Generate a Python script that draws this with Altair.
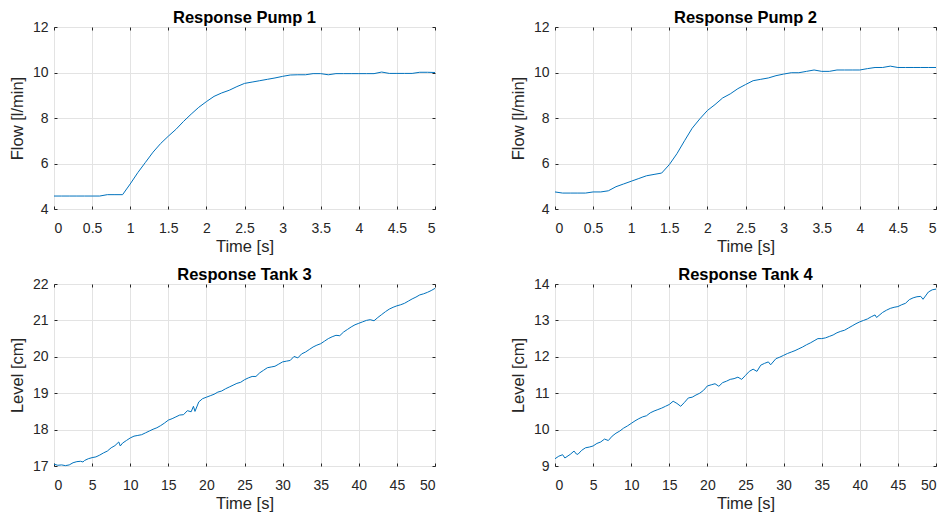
import altair as alt
import pandas as pd

FONT = "Liberation Sans"
LINE = "#0072BD"
TXT = "#262626"

# ---------------- data ----------------
pump_time = [i / 10 for i in range(51)]

pump1_flow = [4.57, 4.57, 4.57, 4.57, 4.57, 4.57, 4.57, 4.63, 4.63, 4.63,
              5.10, 5.60, 6.05, 6.50, 6.88, 7.20, 7.50, 7.85, 8.17, 8.47,
              8.72, 8.95, 9.10, 9.22, 9.38, 9.52, 9.58, 9.64, 9.70, 9.76,
              9.83, 9.89, 9.90, 9.90, 9.95, 9.95, 9.90, 9.95, 9.95, 9.95,
              9.95, 9.95, 9.95, 10.02, 9.96, 9.96, 9.96, 9.96, 10.01, 10.01,
              10.00]

pump2_flow = [4.75, 4.70, 4.70, 4.70, 4.70, 4.75, 4.75, 4.80, 4.98, 5.10,
              5.22, 5.34, 5.46, 5.52, 5.58, 5.95, 6.43, 7.00, 7.55, 7.96,
              8.33, 8.59, 8.88, 9.06, 9.29, 9.47, 9.64, 9.70, 9.76, 9.86,
              9.93, 9.99, 9.99, 10.05, 10.11, 10.05, 10.05, 10.11, 10.11, 10.11,
              10.11, 10.17, 10.22, 10.22, 10.28, 10.22, 10.22, 10.22, 10.22, 10.22,
              10.22]

tank3_time = [0, 0.5, 1, 1.5, 2, 2.5, 3, 3.5, 3.8, 4,
              4.5, 5, 5.5, 6, 6.5, 7, 7.5, 8, 8.5, 8.7,
              9, 9.5, 10, 10.5, 11, 11.5, 12, 12.5, 13, 13.5,
              14, 14.5, 15, 15.5, 16, 16.5, 17, 17.5, 18, 18.3,
              18.5, 19, 19.5, 20, 20.5, 21, 21.5, 22, 22.5, 23,
              23.5, 24, 24.5, 25, 25.5, 26, 26.5, 27, 27.5, 28,
              28.5, 29, 29.5, 30, 30.5, 31, 31.5, 32, 32.5, 33,
              33.5, 34, 34.5, 35, 35.5, 36, 36.5, 37, 37.5, 38,
              38.5, 39, 39.5, 40, 40.5, 41, 41.5, 42, 42.5, 43,
              43.5, 44, 44.5, 45, 45.5, 46, 46.5, 47, 47.5, 48,
              48.5, 49, 49.5, 50]
tank3_level = [17.05, 17.02, 17.03, 17.01, 17.03, 17.09, 17.12, 17.13, 17.11, 17.15,
               17.20, 17.23, 17.25, 17.30, 17.36, 17.41, 17.50, 17.56, 17.66, 17.55,
               17.63, 17.70, 17.77, 17.82, 17.84, 17.86, 17.91, 17.96, 18.01, 18.05,
               18.11, 18.18, 18.26, 18.30, 18.35, 18.40, 18.41, 18.52, 18.49, 18.64,
               18.50, 18.76, 18.85, 18.89, 18.93, 18.97, 19.03, 19.06, 19.12, 19.17,
               19.22, 19.27, 19.30, 19.37, 19.42, 19.46, 19.46, 19.56, 19.63, 19.70,
               19.72, 19.74, 19.80, 19.86, 19.88, 19.90, 20.01, 19.97, 20.08, 20.13,
               20.20, 20.27, 20.32, 20.36, 20.43, 20.50, 20.55, 20.59, 20.58, 20.68,
               20.75, 20.82, 20.88, 20.92, 20.96, 21.00, 21.02, 20.99, 21.08, 21.16,
               21.24, 21.31, 21.36, 21.40, 21.43, 21.47, 21.53, 21.59, 21.64, 21.70,
               21.73, 21.77, 21.82, 21.88]

tank4_time = [0, 0.5, 1, 1.3, 2, 2.5, 2.8, 3, 3.5, 4,
              4.5, 5, 5.5, 6, 6.5, 7, 7.5, 8, 8.5, 9,
              9.5, 10, 10.5, 11, 11.5, 12, 12.5, 13, 13.5, 14,
              14.5, 15, 15.5, 16, 16.5, 17, 17.5, 18, 18.5, 19,
              19.5, 20, 20.5, 21, 21.5, 22, 22.5, 23, 23.5, 24,
              24.5, 25, 25.5, 26, 26.5, 27, 27.5, 28, 28.3, 29,
              29.5, 30, 30.5, 31, 31.5, 32, 32.5, 33, 33.5, 34,
              34.5, 35, 35.5, 36, 36.5, 37, 37.5, 38, 38.5, 39,
              39.5, 40, 40.5, 41, 41.5, 42, 42.2, 43, 43.5, 44,
              44.5, 45, 45.5, 46, 46.5, 47, 47.5, 48, 48.3, 49,
              49.5, 50]
tank4_level = [9.20, 9.27, 9.31, 9.22, 9.32, 9.41, 9.33, 9.32, 9.43, 9.50,
               9.52, 9.55, 9.62, 9.66, 9.74, 9.70, 9.82, 9.90, 9.96, 10.04,
               10.10, 10.17, 10.24, 10.30, 10.35, 10.38, 10.46, 10.51, 10.55, 10.59,
               10.64, 10.69, 10.78, 10.72, 10.64, 10.75, 10.87, 10.89, 10.95, 11.00,
               11.08, 11.20, 11.23, 11.26, 11.19, 11.29, 11.33, 11.38, 11.40, 11.44,
               11.38, 11.49, 11.60, 11.66, 11.60, 11.77, 11.82, 11.86, 11.78, 11.95,
               11.99, 12.04, 12.09, 12.13, 12.17, 12.22, 12.27, 12.33, 12.38, 12.44,
               12.50, 12.50, 12.52, 12.56, 12.60, 12.66, 12.70, 12.73, 12.79, 12.85,
               12.91, 12.96, 13.00, 13.04, 13.10, 13.15, 13.08, 13.22, 13.28, 13.33,
               13.36, 13.38, 13.43, 13.47, 13.57, 13.62, 13.65, 13.66, 13.58, 13.78,
               13.84, 13.86]

pump_xticks = [0, 0.5, 1, 1.5, 2, 2.5, 3, 3.5, 4, 4.5, 5]
tank_xticks = [0, 5, 10, 15, 20, 25, 30, 35, 40, 45, 50]
pump_yticks = [4, 6, 8, 10, 12]
tank3_yticks = [17, 18, 19, 20, 21, 22]
tank4_yticks = [9, 10, 11, 12, 13, 14]

W, H = 381, 182


def panel(t, v, title, ylabel, xdom, xticks, ydom, yticks):
    df = pd.DataFrame({"t": t, "v": v})
    xs = alt.Scale(domain=xdom, nice=False, zero=False)
    ys = alt.Scale(domain=ydom, nice=False, zero=False)
    main = alt.Chart(df).mark_line(color=LINE, strokeWidth=1).encode(
        x=alt.X("t:Q", scale=xs, axis=alt.Axis(
            orient="bottom", values=xticks, format="~g", title="Time [s]",
            domain=False, ticks=True, tickSize=3, offset=-3, tickColor=TXT,
            labelPadding=12, titlePadding=3, grid=True)),
        y=alt.Y("v:Q", scale=ys, axis=alt.Axis(
            orient="left", values=yticks, format="~g", title=ylabel,
            domain=False, ticks=True, tickSize=3, offset=-3, tickColor=TXT,
            labelPadding=6, titlePadding=7, grid=True)),
    )
    ghost = alt.Chart(df).mark_line(strokeOpacity=0).encode(
        x=alt.X("t:Q", scale=xs, axis=alt.Axis(
            orient="top", values=xticks, labels=False, title=None, domain=False,
            ticks=True, tickSize=3, offset=-3, tickColor=TXT, grid=False,
            minExtent=0, maxExtent=0, labelPadding=0)),
        y=alt.Y("v:Q", scale=ys, axis=alt.Axis(
            orient="right", values=yticks, labels=False, title=None, domain=False,
            ticks=True, tickSize=3, offset=-3, tickColor=TXT, grid=False,
            minExtent=0, maxExtent=0, labelPadding=0)),
    )
    return alt.layer(main, ghost).resolve_axis(x="independent", y="independent").properties(
        width=W, height=H,
        title=alt.TitleParams(title, fontSize=16.5, fontWeight="bold", font=FONT,
                              color="#000000", offset=-6),
    )


p1 = panel(pump_time, pump1_flow, "Response Pump 1", "Flow [l/min]", [0, 5], pump_xticks, [4, 12], pump_yticks)
p2 = panel(pump_time, pump2_flow, "Response Pump 2", "Flow [l/min]", [0, 5], pump_xticks, [4, 12], pump_yticks)
p3 = panel(tank3_time, tank3_level, "Response Tank 3", "Level [cm]", [0, 50], tank_xticks, [17, 22], tank3_yticks)
p4 = panel(tank4_time, tank4_level, "Response Tank 4", "Level [cm]", [0, 50], tank_xticks, [9, 14], tank4_yticks)

chart = alt.concat(
    p1, p2, p3, p4, columns=2,
    spacing={"row": 75, "column": 120}, bounds="flush",
).properties(
    padding={"left": 8, "top": 9, "right": 0, "bottom": 0},
    background="white",
).configure_view(
    stroke="#333333", strokeWidth=1,
).configure_axis(
    labelFont=FONT, titleFont=FONT, labelFontSize=14, titleFontSize=16.5,
    labelColor=TXT, titleColor=TXT, titleFontWeight="normal",
    gridColor="#e3e3e3", gridWidth=1, gridOpacity=1,
)

chart.save("out.html", embed_options={"renderer": "svg", "actions": False})
